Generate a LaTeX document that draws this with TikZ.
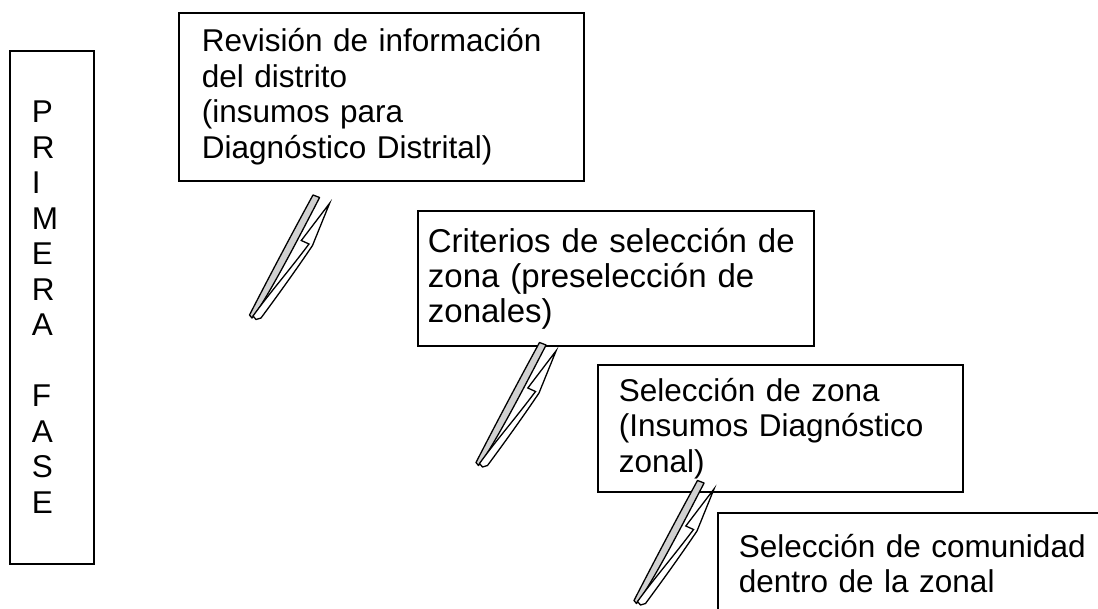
\documentclass[tikz,border=0pt]{standalone}
\usepackage{fontspec}
\setmainfont{Liberation Sans}
\begin{document}
\begin{tikzpicture}[x=1pt,y=-1pt,
  box/.style={draw=black, line width=1.8pt, anchor=north west, align=left,
    font=\fontsize{31.5pt}{35.5pt}\selectfont, inner ysep=0pt},
  bigtext/.style={font=\fontsize{33pt}{35pt}\selectfont},
  bentarrow/.pic={
    \filldraw[fill=black!18, draw=black, line width=1.3pt, line join=round]
      (0,0) -- (6.6,2.5) .. controls (-18,50) and (-40,92) .. (-57,118)
      -- (-61,123) -- (-63.5,120) .. controls (-46,86) and (-24,44) .. cycle;
    \filldraw[fill=white, draw=black, line width=1.3pt, line join=miter]
      (16.6,8.3) -- (-11.7,45.5) -- (-4,49) .. controls (-25,77) and (-45,100) .. (-60,121)
      -- (-57,124.5) -- (-52,123) .. controls (-35,100) and (-17,75) .. (-0.5,50.5) -- cycle;
  }]
\useasboundingbox (0,0) rectangle (1098,609);
\clip (0,0) rectangle (1098,609);

\node[box, minimum width=84pt, minimum height=513pt, text width=40pt, inner xsep=22pt] (fase) at (9,50)
  {P\\R\\I\\M\\E\\R\\A\\\mbox{}\\F\\A\\S\\E};

\node[box, minimum width=405pt, minimum height=168pt, text width=359pt, inner xsep=23pt] (b1) at (178,12)
  {Revisión de información\\del distrito\\(insumos para\\Diagnóstico Distrital)};

\node[box, bigtext, minimum width=396pt, minimum height=135pt, text width=376pt, inner xsep=10pt] (b2) at (417,210)
  {\mbox{Criterios de selección de}\\\mbox{zona (preselección de}\\zonales)};

\node[box, minimum width=365pt, minimum height=127pt, text width=323pt, inner xsep=21pt] (b3) at (597,364)
  {Selección de zona\\(Insumos Diagnóstico\\zonal)};

\node[box, minimum width=420pt, minimum height=101pt, text width=378pt, inner xsep=21pt] (b4) at (717,512)
  {Selección de comunidad\\dentro de la zonal};

\pic at (313,195) {bentarrow};
\pic at (539.5,342.5) {bentarrow};
\pic at (697.5,480.5) {bentarrow};
\end{tikzpicture}
\end{document}
